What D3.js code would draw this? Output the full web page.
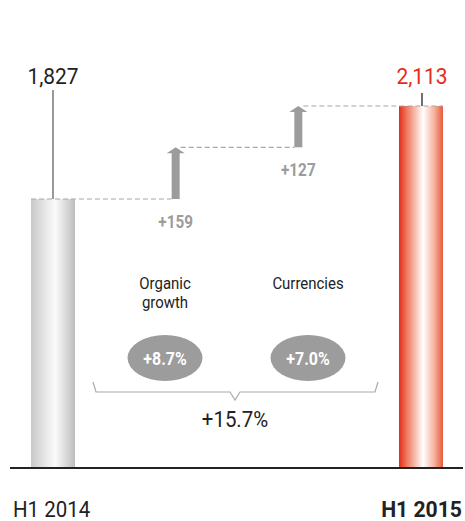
<!DOCTYPE html>
<html>
<head>
<meta charset="utf-8">
<script src="https://cdn.jsdelivr.net/npm/d3@7"></script>
<style>
  html, body { margin: 0; padding: 0; background: #fff; }
  svg { display: block; }
</style>
</head>
<body>
<div id="chart"></div>
<script>
// Sales bridge H1 2014 -> H1 2015
const periods = ["H1 2014", "H1 2015"];
const totals = [1827, 2113];
const stepNames = [["Organic", "growth"], ["Currencies"]];
const stepValues = [159, 127];
const stepPercents = ["+8.7%", "+7.0%"];
const totalChange = "+15.7%";

const W = 465, H = 521;
const baseY = 467;
const barW = 44;
const FONT = "Roboto, 'Liberation Sans', sans-serif";

const svg = d3.select("#chart").append("svg")
  .attr("width", W).attr("height", H);

// condensed text helper: horizontal squeeze keeps the narrow DIN-like look
function label(parent, px, py, txt, o) {
  const t = parent.append("text")
    .attr("transform", `translate(${px},${py}) scale(${o.sx || 1},1)`)
    .attr("text-anchor", o.anchor || "middle")
    .attr("font-family", FONT)
    .attr("font-weight", o.weight || "normal")
    .attr("font-size", o.size)
    .attr("fill", o.fill || "#222");
  if (Array.isArray(txt)) {
    txt.forEach((s, j) => t.append("tspan").attr("x", 0).attr("dy", j ? o.lh : 0).text(s));
  } else t.text(txt);
  return t;
}

const defs = svg.append("defs");
function hGrad(id, stops) {
  const g = defs.append("linearGradient").attr("id", id)
    .attr("x1", "0%").attr("x2", "100%").attr("y1", "0%").attr("y2", "0%");
  stops.forEach(s => g.append("stop").attr("offset", s[0]).attr("stop-color", s[1]));
}
hGrad("gGrey", [["0%", "#c9c9c9"], ["55%", "#fbfbfb"], ["100%", "#bdbdbd"]]);
hGrad("gRed", [["0%", "#e42d1a"], ["18%", "#ef7a5e"], ["55%", "#ffffff"], ["80%", "#f5b39c"], ["100%", "#e65a3c"]]);

// columns: start total, two steps, end total
const cols = ["start", "step0", "step1", "end"];
const x = d3.scalePoint().domain(cols).range([53, 421]);
const y = d3.scaleLinear().domain([1003, 2113]).range([baseY, 106]);

// running levels for the bridge
const levels = [totals[0]];
stepValues.forEach(v => levels.push(levels[levels.length - 1] + v));

// total bars
const barData = [
  { key: "start", value: totals[0], fill: "url(#gGrey)" },
  { key: "end", value: totals[1], fill: "url(#gRed)" }
];
svg.selectAll("rect.total").data(barData).enter().append("rect")
  .attr("class", "total")
  .attr("x", d => x(d.key) - barW / 2)
  .attr("y", d => y(d.value))
  .attr("width", barW)
  .attr("height", d => baseY - y(d.value))
  .attr("fill", d => d.fill);

// dashed connectors
const dash = svg.append("g").attr("stroke", "#a8a8a8").attr("stroke-width", 1.2)
  .attr("stroke-dasharray", "5,3").attr("fill", "none");
dash.append("line")
  .attr("x1", x("start") - barW / 2).attr("x2", x("step0") - 4)
  .attr("y1", y(levels[0])).attr("y2", y(levels[0]));
dash.append("line")
  .attr("x1", x("step0") + 5).attr("x2", x("step1") - 4)
  .attr("y1", y(levels[1])).attr("y2", y(levels[1]));
dash.append("line")
  .attr("x1", x("step1") + 5).attr("x2", x("end") + barW / 2)
  .attr("y1", y(levels[2])).attr("y2", y(levels[2]));

// step arrows
stepValues.forEach((v, i) => {
  const cx = x("step" + i);
  const y0 = y(levels[i]), y1 = y(levels[i + 1]);
  const g = svg.append("g").attr("fill", "#9c9c9c");
  g.append("rect").attr("x", cx - 4).attr("y", y1 + 5).attr("width", 8).attr("height", y0 - y1 - 5);
  g.append("path").attr("d", `M${cx - 9},${y1 + 6} L${cx},${y1} L${cx + 9},${y1 + 6} Z`);
  label(svg, cx, y0 + 29, "+" + v, { size: 18, weight: "bold", fill: "#9c9c9c", sx: 0.85 });
});

// total labels and leader lines
svg.append("line")
  .attr("x1", x("start")).attr("x2", x("start"))
  .attr("y1", 90).attr("y2", y(totals[0]))
  .attr("stroke", "#777").attr("stroke-width", 1.5);
svg.append("line")
  .attr("x1", x("end") + 1).attr("x2", x("end") + 1)
  .attr("y1", 93).attr("y2", y(totals[1]))
  .attr("stroke", "#222").attr("stroke-width", 1.3);

const fmt = d3.format(",");
label(svg, x("start"), 84, fmt(totals[0]), { size: 22.5, sx: 0.93 });
label(svg, x("end") + 1, 84, fmt(totals[1]), { size: 22.5, sx: 0.93, fill: "#e42d1a" });

// step names and percentage ovals
const labelX = [165, 308];
stepNames.forEach((lines, i) => {
  label(svg, labelX[i], 289, lines, { size: 17, sx: 0.88, lh: 19 });
  svg.append("ellipse").attr("cx", labelX[i]).attr("cy", 358)
    .attr("rx", 37.5).attr("ry", 23).attr("fill", "#9c9c9c");
  label(svg, labelX[i], 364.5, stepPercents[i], { size: 19, weight: "bold", fill: "#fff", sx: 0.84 });
});

// brace spanning both steps
svg.append("path")
  .attr("d", "M93,382 L96,392 L230,392 L235,400 L240,392 L375,392 L378,382")
  .attr("fill", "none").attr("stroke", "#aaa").attr("stroke-width", 1.2);
label(svg, 235, 427, totalChange, { size: 21.5, sx: 0.95 });

// baseline
svg.append("line").attr("x1", 10).attr("x2", 463)
  .attr("y1", baseY + 1).attr("y2", baseY + 1)
  .attr("stroke", "#222").attr("stroke-width", 2);

// period labels
label(svg, 13, 517, periods[0], { size: 22.5, sx: 0.91, anchor: "start" });
label(svg, 462, 517, periods[1], { size: 22.5, sx: 0.94, anchor: "end", weight: "bold" });
</script>
</body>
</html>
